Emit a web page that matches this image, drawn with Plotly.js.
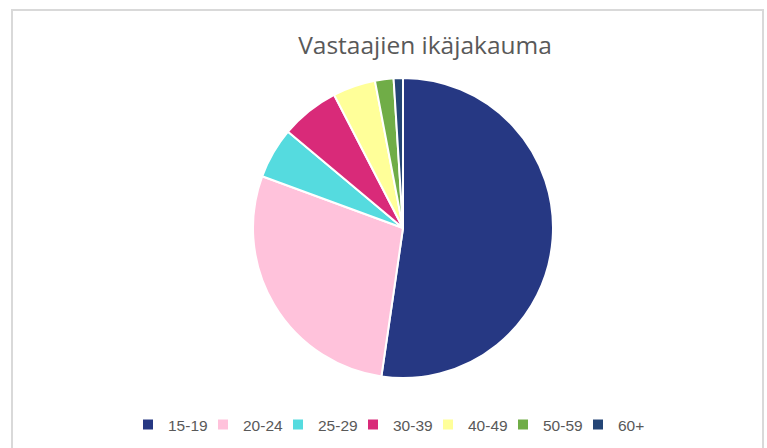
<!DOCTYPE html>
<html>
<head>
<meta charset="utf-8">
<script src="https://cdn.plot.ly/plotly-3.0.1.min.js"></script>
<style>
html,body{margin:0;padding:0;background:#fff;}
#chart{width:767px;height:448px;}
</style>
</head>
<body>
<div id="chart"></div>
<script>
const labels = ["15-19", "20-24", "25-29", "30-39", "40-49", "50-59", "60+"];
const values = [52.3, 28.3, 5.5, 6.3, 4.6, 2.0, 1.0];
const colors = ["#263883", "#FFC2DB", "#55DBDF", "#D92A79", "#FFFF99", "#70AD47", "#244576"];
const titleText = "Vastaajien ikäjakauma";

const W = 767, H = 448;
const cx = 403, cy = 228, r = 150;

const trace = {
  type: "pie",
  labels: labels,
  values: values,
  sort: false,
  direction: "clockwise",
  rotation: 0,
  textinfo: "none",
  hoverinfo: "label+percent",
  marker: {colors: colors, line: {color: "#FFFFFF", width: 2}},
  domain: {x: [(cx - r) / W, (cx + r) / W], y: [(H - cy - r) / H, (H - cy + r) / H]},
  automargin: false
};

const layout = {
  width: W, height: H,
  margin: {l: 0, r: 0, t: 0, b: 0, autoexpand: false},
  paper_bgcolor: "#FFFFFF",
  plot_bgcolor: "#FFFFFF",
  font: {family: "Liberation Sans, Arial, sans-serif", color: "#595959"},
  title: {
    text: titleText,
    x: 425 / W, xanchor: "center",
    y: 1 - 45 / H, yanchor: "middle",
    font: {size: 24.5, color: "#595959", family: "Open Sans, Liberation Sans, sans-serif"}
  },
  showlegend: true,
  legend: {
    orientation: "h",
    x: 128 / W, xanchor: "left",
    y: 1 - 425 / H, yanchor: "middle",
    font: {size: 15.5, color: "#595959"},
    entrywidth: 30, entrywidthmode: "pixels",
    itemclick: false,
    traceorder: "normal"
  },
  shapes: [
    {type: "rect", xref: "paper", yref: "paper",
     x0: 12 / W, x1: 763 / W, y0: -0.05, y1: 1 - 10 / H,
     line: {color: "#D9D9D9", width: 2}, fillcolor: "rgba(0,0,0,0)", layer: "below"}
  ]
};

Plotly.newPlot("chart", [trace], layout, {displayModeBar: false, staticPlot: true});
</script>
</body>
</html>
